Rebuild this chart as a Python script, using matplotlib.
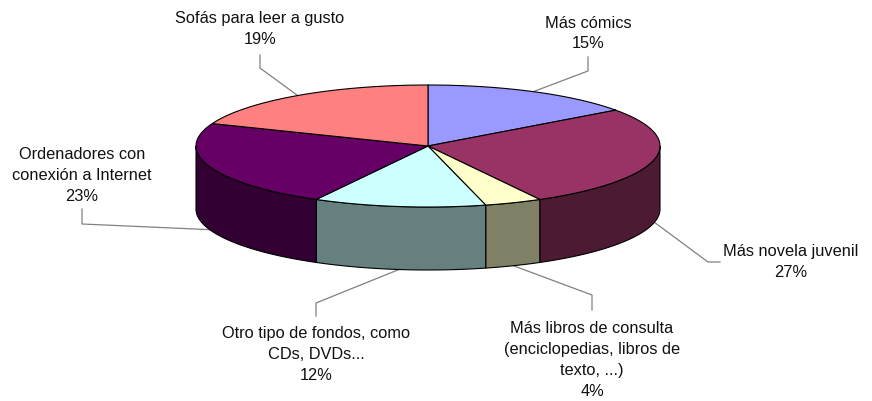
import numpy as np
import matplotlib
matplotlib.use("Agg")
import matplotlib.pyplot as plt
from matplotlib.patches import Polygon

# ---- data ----
categories = [
    "Más cómics",
    "Más novela juvenil",
    "Más libros de consulta\n(enciclopedias, libros de\ntexto, ...)",
    "Otro tipo de fondos, como\nCDs, DVDs...",
    "Ordenadores con\nconexión a Internet",
    "Sofás para leer a gusto",
]
values = [15, 27, 4, 12, 23, 19]
colors = ["#9999FF", "#993366", "#FFFFCC", "#CCFFFF", "#660066", "#FF8080"]

# ---- layout (pixels) ----
W, H = 872, 401
CX, CY, RX, RY, DEPTH = 428, 146, 232, 61, 63
label_pos = [(588, 33.5), (791, 262), (592, 360), (316, 354.5), (82, 175.5), (260, 29)]
elbows = [((588, 71), (588, 57)), ((708, 262), (720, 262)), ((592, 295), (592, 310)),
          ((316, 303), (316, 316)), ((82, 224), (82, 209)), ((260, 68), (260, 55))]

plt.rcParams['font.family'] = ['Liberation Sans', 'DejaVu Sans']
fig = plt.figure(figsize=(W / 100, H / 100), dpi=100)
ax = fig.add_axes([0, 0, 1, 1])
ax.set_xlim(0, W)
ax.set_ylim(H, 0)
ax.axis('off')


def ell(theta_deg, dz=0.0):
    t = np.radians(theta_deg)
    return CX + RX * np.cos(t), CY - RY * np.sin(t) + dz


def shade(c, f=0.5):
    r, g, b = matplotlib.colors.to_rgb(c)
    return (r * f, g * f, b * f)


total = float(sum(values))
angles = []
a = 90.0
for v in values:
    a2 = a - v / total * 360.0
    angles.append((a, a2))
    a = a2

# sides (front half only: angles between -180 and 0)
for (a1, a2), c in zip(angles, colors):
    hi = min(a1, 0.0)
    lo = max(a2, -180.0)
    if hi <= lo:
        continue
    th = np.linspace(hi, lo, 80)
    top = [ell(t) for t in th]
    bot = [ell(t, DEPTH) for t in th[::-1]]
    ax.add_patch(Polygon(top + bot, closed=True, facecolor=shade(c), edgecolor='black',
                         linewidth=0.8, zorder=2))

# tops
for (a1, a2), c in zip(angles, colors):
    th = np.linspace(a1, a2, 120)
    pts = [(CX, CY)] + [ell(t) for t in th]
    ax.add_patch(Polygon(pts, closed=True, facecolor=c, edgecolor='black',
                         linewidth=0.8, joinstyle='round', zorder=3))

# labels and leader lines
for (a1, a2), v, lab, (tx, ty), (elb, end) in zip(angles, values, categories, label_pos, elbows):
    mid = (a1 + a2) / 2.0
    dz = DEPTH if np.sin(np.radians(mid)) < 0 else 0.0
    px, py = ell(mid, dz)
    ax.plot([px, elb[0], end[0]], [py, elb[1], end[1]], color='#808080', linewidth=0.9, zorder=1)
    ax.text(tx, ty, f"{lab}\n{v}%", ha='center', va='center', multialignment='center',
            fontsize=11.8, color='#111111', linespacing=1.5, zorder=4)

fig.savefig("out.png", dpi=100, facecolor='white')
